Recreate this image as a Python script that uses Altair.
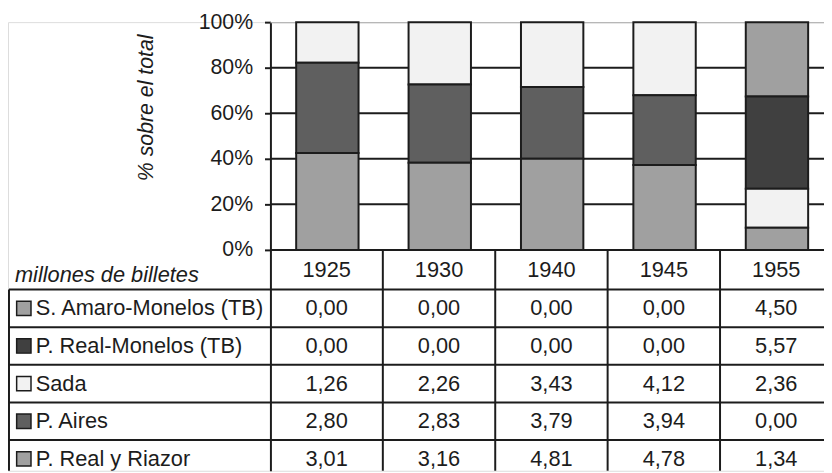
import altair as alt
import pandas as pd

# ---------------- data ----------------
years = ["1925", "1930", "1940", "1945", "1955"]
series = ["S. Amaro-Monelos (TB)", "P. Real-Monelos (TB)", "Sada", "P. Aires", "P. Real y Riazor"]
amaro = [0.00, 0.00, 0.00, 0.00, 4.50]
real_monelos = [0.00, 0.00, 0.00, 0.00, 5.57]
sada = [1.26, 2.26, 3.43, 4.12, 2.36]
aires = [2.80, 2.83, 3.79, 3.94, 0.00]
riazor = [3.01, 3.16, 4.81, 4.78, 1.34]
values = [amaro, real_monelos, sada, aires, riazor]
colors = ["#a0a0a0", "#404040", "#f2f2f2", "#5f5f5f", "#a0a0a0"]
y_ticks = [0, 0.2, 0.4, 0.6, 0.8, 1.0]

rows = []
for r, (name, vals) in enumerate(zip(series, values)):
    for i, (yr, v) in enumerate(zip(years, vals)):
        rows.append({"series": name, "row": r, "ord": len(series) - 1 - r,
                     "year": yr, "idx": i, "value": v,
                     "label": f"{v:.2f}".replace(".", ",")})
df = pd.DataFrame(rows)
df_series = pd.DataFrame({"series": series, "row": list(range(len(series)))})
df_years = pd.DataFrame({"year": years, "idx": list(range(len(years)))})
df_grid = pd.DataFrame({"g": y_ticks[1:-1]})
df_top = pd.DataFrame({"g": y_ticks[-1:]})
df_hlines = pd.DataFrame({"r": list(range(len(series) + 1))})
df_vlines = pd.DataFrame({"c": list(range(1, len(years)))})

# ---------------- layout constants ----------------
INK = "#1c1c1c"
FONT = "Liberation Sans"
LABEL_COL = -2.326      # left border of the table (in column units)
HEADER = -1.0526        # top of header row (in row units)
NCOL = len(years)

xs = alt.Scale(domain=[-2.3348, 4.925], nice=False, zero=False)
ys_top = alt.Scale(domain=[-0.9696, 1.0], nice=False, zero=False)
ys_tab = alt.Scale(domain=[-7.105, 4.816], nice=False, zero=False, reverse=True)

color_scale = alt.Scale(domain=series, range=colors)

y_axis = alt.Axis(values=y_ticks, format=".0%", orient="left", offset=-265,
                  tickSize=6, tickWidth=2, tickColor=INK,
                  domain=True, domainWidth=2, domainColor=INK,
                  grid=False, labelFont=FONT, labelFontSize=21.5,
                  labelColor=INK, labelPadding=12,
                  title="% sobre el total", titleFont=FONT,
                  titleFontSize=21.5, titleFontStyle="italic",
                  titleFontWeight="normal", titleColor=INK,
                  titleAngle=270, titleX=-125.5, titleY=86,
                  titleAlign="center", titleBaseline="middle")

# ---------------- top: 100% stacked bars ----------------
grid = alt.Chart(df_grid).transform_calculate(
    xa="0", xb=str(NCOL)
).mark_rule(color=INK, strokeWidth=2, clip=True).encode(
    x=alt.X("xa:Q", scale=xs, axis=None),
    x2="xb:Q",
    y=alt.Y("g:Q", scale=ys_top, axis=y_axis),
)
top_line = alt.Chart(df_top).transform_calculate(
    xa="0", xb=str(NCOL)
).mark_rule(color="#a8a8a8", strokeWidth=2, clip=True).encode(
    x=alt.X("xa:Q", scale=xs, axis=None),
    x2="xb:Q",
    y=alt.Y("g:Q", scale=ys_top, axis=None),
)
bars = alt.Chart(df).transform_stack(
    stack="value", groupby=["year"], as_=["y0", "y1"],
    sort=[alt.SortField("ord", order="ascending")], offset="normalize"
).transform_filter("datum.value > 0").transform_calculate(
    xa="datum.idx + 0.229", xb="datum.idx + 0.784"
).mark_rect(stroke=INK, strokeWidth=2).encode(
    x=alt.X("xa:Q", scale=xs, axis=None),
    x2="xb:Q",
    y=alt.Y("y0:Q", scale=ys_top, axis=None),
    y2="y1:Q",
    fill=alt.Fill("series:N", scale=color_scale, legend=None),
)

# ---------------- bottom: data table ----------------
hlines = alt.Chart(df_hlines).transform_calculate(
    xa=str(LABEL_COL), xb=str(NCOL)
).mark_rule(color=INK, strokeWidth=2, clip=True).encode(
    x=alt.X("xa:Q", scale=xs, axis=None),
    x2="xb:Q",
    y=alt.Y("r:Q", scale=ys_tab, axis=None),
)
header_line = alt.Chart(df_years.head(1)).transform_calculate(
    xa="0", xb=str(NCOL), yh=str(HEADER)
).mark_rule(color=INK, strokeWidth=2, clip=True).encode(
    x=alt.X("xa:Q", scale=xs, axis=None),
    x2="xb:Q",
    y=alt.Y("yh:Q", scale=ys_tab, axis=None),
)
vlines = alt.Chart(df_vlines).transform_calculate(
    ya=str(HEADER), yb=str(len(series) + 1)
).mark_rule(color=INK, strokeWidth=2, clip=True).encode(
    x=alt.X("c:Q", scale=xs, axis=None),
    y=alt.Y("ya:Q", scale=ys_tab, axis=None),
    y2="yb:Q",
)
left_line = alt.Chart(df_years.head(1)).transform_calculate(
    xa=str(LABEL_COL), ya="0", yb=str(len(series) + 1)
).mark_rule(color=INK, strokeWidth=2, clip=True).encode(
    x=alt.X("xa:Q", scale=xs, axis=None),
    y=alt.Y("ya:Q", scale=ys_tab, axis=None),
    y2="yb:Q",
)
year_text = alt.Chart(df_years).transform_calculate(
    xc="datum.idx + 0.5", yc=str(HEADER / 2)
).mark_text(font=FONT, fontSize=22, color=INK, align="center", baseline="middle").encode(
    x=alt.X("xc:Q", scale=xs, axis=None),
    y=alt.Y("yc:Q", scale=ys_tab, axis=None),
    text="year:N",
)
unit_text = alt.Chart(df_years.head(1)).transform_calculate(
    xc="-2.273", yc="-0.2"
).mark_text(
    font=FONT, fontSize=22, fontStyle="italic", color=INK, align="left", baseline="alphabetic"
).encode(
    x=alt.X("xc:Q", scale=xs, axis=None),
    y=alt.Y("yc:Q", scale=ys_tab, axis=None),
    text=alt.value("millones de billetes"),
)
val_text = alt.Chart(df).transform_calculate(
    xc="datum.idx + 0.5", yc="datum.row + 0.5"
).mark_text(font=FONT, fontSize=22, color=INK, align="center", baseline="middle", clip=True).encode(
    x=alt.X("xc:Q", scale=xs, axis=None),
    y=alt.Y("yc:Q", scale=ys_tab, axis=None),
    text="label:N",
)
row_text = alt.Chart(df_series).transform_calculate(
    xc="-2.088", yc="datum.row + 0.5"
).mark_text(font=FONT, fontSize=22, color=INK, align="left", baseline="middle", clip=True).encode(
    x=alt.X("xc:Q", scale=xs, axis=None),
    y=alt.Y("yc:Q", scale=ys_tab, axis=None),
    text="series:N",
)
swatches = alt.Chart(df_series).transform_calculate(
    xc="-2.194", yc="datum.row + 0.5"
).mark_point(shape="square", size=210, filled=True, stroke=INK, strokeWidth=1.5,
             opacity=1, clip=True).encode(
    x=alt.X("xc:Q", scale=xs, axis=None),
    y=alt.Y("yc:Q", scale=ys_tab, axis=None),
    fill=alt.Fill("series:N", scale=color_scale, legend=None),
)

# every y scale has an explicit domain, so independent scales line up exactly
chart = alt.layer(grid, top_line, bars, hlines, header_line, vlines, left_line,
                  year_text, unit_text, val_text, row_text, swatches
).resolve_scale(y="independent").properties(
    width=824, height=453,
    autosize=alt.AutoSizeParams(type="none"),
    padding={"left": 0, "top": 12, "right": 0, "bottom": 0},
).configure_view(stroke=None).configure(background="white")

chart.save("out.html", embed_options={"renderer": "svg", "actions": False})
